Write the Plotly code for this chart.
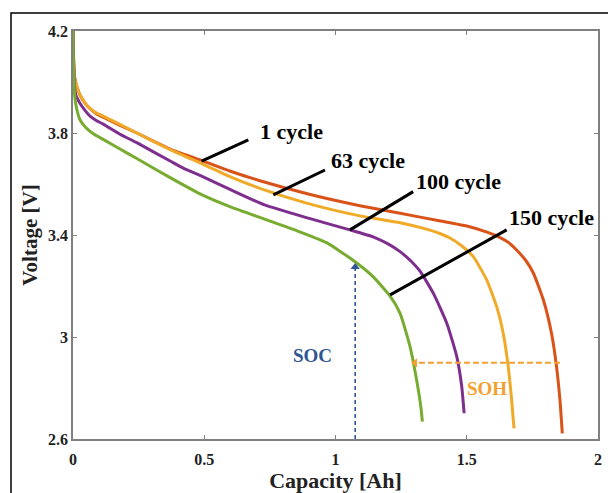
import plotly.graph_objects as go

# ---- data -------------------------------------------------------------
cap_1 = [0, 0.002, 0.006, 0.014, 0.027, 0.045, 0.065, 0.09, 0.115, 0.179, 0.243, 0.37, 0.496,
         0.60, 0.712, 0.90, 1.093, 1.246, 1.40, 1.5, 1.58, 1.627, 1.66, 1.69, 1.725, 1.754,
         1.792, 1.823, 1.842, 1.855, 1.864]
v_1 = [4.20, 4.10, 4.02, 3.985, 3.948, 3.918, 3.895, 3.875, 3.862, 3.83, 3.80, 3.737, 3.69,
       3.65, 3.613, 3.56, 3.515, 3.485, 3.455, 3.435, 3.41, 3.39, 3.37, 3.341, 3.30, 3.25,
       3.145, 3.014, 2.884, 2.753, 2.622]

cap_63 = [0, 0.002, 0.006, 0.014, 0.027, 0.045, 0.065, 0.09, 0.115, 0.179, 0.243, 0.37, 0.496,
          0.60, 0.712, 0.90, 1.093, 1.246, 1.35, 1.40, 1.436, 1.48, 1.525, 1.576, 1.614, 1.639,
          1.658, 1.671, 1.68]
v_63 = [4.20, 4.10, 4.02, 3.985, 3.948, 3.918, 3.897, 3.878, 3.866, 3.834, 3.80, 3.735, 3.677,
        3.628, 3.583, 3.522, 3.475, 3.448, 3.422, 3.405, 3.388, 3.358, 3.315, 3.224, 3.119,
        3.014, 2.884, 2.753, 2.642]

cap_100 = [0, 0.002, 0.006, 0.012, 0.027, 0.045, 0.065, 0.09, 0.115, 0.179, 0.243, 0.37, 0.42,
           0.496, 0.60, 0.73, 0.90, 1.055, 1.15, 1.20, 1.246, 1.29, 1.322, 1.373, 1.424, 1.462,
           1.481, 1.49]
v_100 = [4.20, 4.08, 3.98, 3.945, 3.916, 3.89, 3.866, 3.848, 3.835, 3.795, 3.762, 3.69, 3.662,
         3.628, 3.578, 3.518, 3.465, 3.42, 3.39, 3.365, 3.335, 3.295, 3.258, 3.171, 3.054, 2.923,
         2.805, 2.701]

cap_150 = [0, 0.002, 0.006, 0.014, 0.027, 0.04, 0.052, 0.077, 0.115, 0.179, 0.243, 0.37, 0.496,
           0.60, 0.73, 0.85, 0.966, 1.068, 1.144, 1.208, 1.246, 1.284, 1.309, 1.325, 1.331]
v_150 = [4.20, 4.05, 3.95, 3.895, 3.851, 3.832, 3.818, 3.797, 3.775, 3.737, 3.70, 3.625, 3.555,
         3.51, 3.462, 3.418, 3.37, 3.30, 3.236, 3.16, 3.093, 2.962, 2.831, 2.727, 2.668]

series_names = ["1 cycle", "63 cycle", "100 cycle", "150 cycle"]
series_caps = [cap_1, cap_63, cap_100, cap_150]
series_volts = [v_1, v_63, v_100, v_150]
series_colors = ["#D95319", "#F0AA28", "#7E2F8E", "#77AC30"]

# label text positions (data units) and pointer line endpoints
label_x = [0.834, 1.122, 1.470, 1.823]
label_y = [3.804, 3.694, 3.608, 3.467]
pointer_x0 = [0.490, 0.763, 1.055, 1.208]
pointer_y0 = [3.690, 3.557, 3.420, 3.165]
pointer_x1 = [0.668, 0.960, 1.296, 1.652]
pointer_y1 = [3.773, 3.655, 3.570, 3.420]

# SOC / SOH arrows
soc_x = [1.075, 1.075]
soc_y = [2.6, 3.275]
soh_x = [1.855, 1.303]
soh_y = [2.899, 2.899]
soc_label = (0.914, 2.929)
soh_label = (1.579, 2.799)

x_ticks = [0, 0.5, 1, 1.5, 2]
x_ticktext = ["0", "0.5", "1", "1.5", "2"]
y_ticks = [2.6, 3.0, 3.4, 3.8, 4.2]
y_ticktext = ["2.6", "3", "3.4", "3.8", "4.2"]

FONT = "Liberation Serif"
SOC_COLOR = "#2F5597"
SOH_COLOR = "#F4A030"

fig = go.Figure()

for name, cx, vy, col in zip(series_names, series_caps, series_volts, series_colors):
    fig.add_trace(go.Scatter(x=cx, y=vy, mode="lines", name=name,
                             line=dict(color=col, width=3, shape="spline", smoothing=0.5),
                             showlegend=False, hoverinfo="skip"))

for x0, y0, x1, y1 in zip(pointer_x0, pointer_y0, pointer_x1, pointer_y1):
    fig.add_trace(go.Scatter(x=[x0, x1], y=[y0, y1], mode="lines",
                             line=dict(color="black", width=3),
                             showlegend=False, hoverinfo="skip"))

# SOC dashed arrow
fig.add_trace(go.Scatter(x=soc_x, y=soc_y, mode="lines",
                         line=dict(color=SOC_COLOR, width=1.6, dash="4px,3px"),
                         showlegend=False, hoverinfo="skip"))
fig.add_trace(go.Scatter(x=[soc_x[1]], y=[soc_y[1]], mode="markers",
                         marker=dict(symbol="triangle-up", size=8, color=SOC_COLOR),
                         showlegend=False, hoverinfo="skip"))
# SOH dashed arrow
fig.add_trace(go.Scatter(x=soh_x, y=soh_y, mode="lines",
                         line=dict(color=SOH_COLOR, width=1.8, dash="6px,3px"),
                         showlegend=False, hoverinfo="skip"))
fig.add_trace(go.Scatter(x=[soh_x[1]], y=[soh_y[1]], mode="markers",
                         marker=dict(symbol="triangle-left", size=8, color=SOH_COLOR),
                         showlegend=False, hoverinfo="skip"))

annotations = []
for name, lx, ly in zip(series_names, label_x, label_y):
    annotations.append(dict(x=lx, y=ly, xref="x", yref="y", text=name, showarrow=False,
                            xanchor="center", yanchor="middle",
                            font=dict(family=FONT, size=22, color="black", weight="bold")))
annotations.append(dict(x=soc_label[0], y=soc_label[1], xref="x", yref="y", text="SOC",
                        showarrow=False, xanchor="center", yanchor="middle",
                        font=dict(family=FONT, size=19, color=SOC_COLOR, weight="bold")))
annotations.append(dict(x=soh_label[0], y=soh_label[1], xref="x", yref="y", text="SOH",
                        showarrow=False, xanchor="center", yanchor="middle",
                        font=dict(family=FONT, size=19, color=SOH_COLOR, weight="bold")))

axis_common = dict(showgrid=False, zeroline=False, showline=True, linecolor="#808080",
                   linewidth=1.5, mirror="ticks", ticks="inside", ticklen=4,
                   tickcolor="#808080", tickwidth=1, automargin=False,
                   tickfont=dict(family=FONT, size=16, color="#222222", weight="bold"))

fig.update_layout(
    width=608, height=493,
    margin=dict(l=73, r=10, t=31, b=54),
    paper_bgcolor="white", plot_bgcolor="white",
    xaxis=dict(range=[0, 2], tickvals=x_ticks, ticktext=x_ticktext, ticklabelstandoff=5,
               title=dict(text="Capacity [Ah]", standoff=6,
                          font=dict(family=FONT, size=22, color="#222222", weight="bold")),
               **axis_common),
    yaxis=dict(range=[2.6, 4.2], tickvals=y_ticks, ticktext=y_ticktext,
               title=dict(text="Voltage [V]", standoff=5,
                          font=dict(family=FONT, size=21, color="#222222", weight="bold")),
               **axis_common),
    annotations=annotations,
    shapes=[dict(type="rect", xref="paper", yref="paper", x0=-0.1181, x1=1.2,
                 y0=-0.4, y1=1.0441, line=dict(color="black", width=1.5),
                 fillcolor="rgba(0,0,0,0)", layer="below")],
)

fig.write_html("out.html")
